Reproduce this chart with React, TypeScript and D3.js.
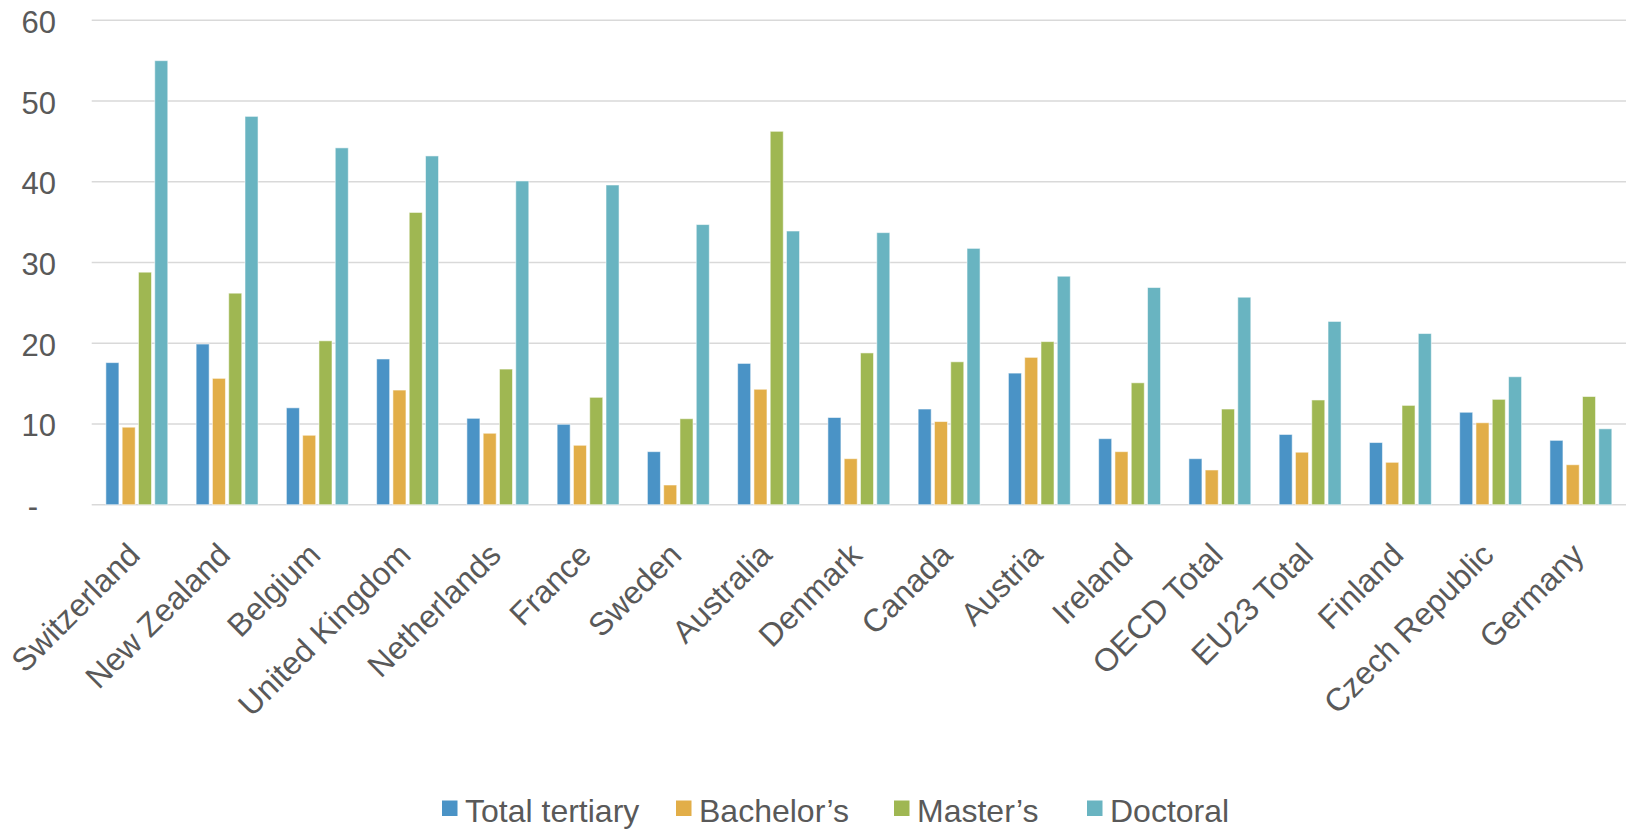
import React from "react";
import * as d3 from "d3";

const categories = [
  "Switzerland", "New Zealand", "Belgium", "United Kingdom", "Netherlands", "France",
  "Sweden", "Australia", "Denmark", "Canada", "Austria", "Ireland", "OECD Total",
  "EU23 Total", "Finland", "Czech Republic", "Germany",
];
const seriesNames = ["Total tertiary", "Bachelor\u2019s", "Master\u2019s", "Doctoral"];
const totalTertiary = [17.6, 19.9, 12.0, 18.05, 10.7, 9.96, 6.57, 17.5, 10.8, 11.85, 16.3, 8.18, 5.7, 8.7, 7.7, 11.45, 7.97];
const bachelors = [9.6, 15.65, 8.6, 14.2, 8.85, 7.36, 2.44, 14.3, 5.7, 10.3, 18.25, 6.57, 4.3, 6.5, 5.25, 10.15, 4.95];
const masters = [28.8, 26.2, 20.3, 36.2, 16.8, 13.3, 10.65, 46.25, 18.8, 17.7, 20.2, 15.1, 11.85, 12.97, 12.3, 13.05, 13.4];
const doctoral = [55.0, 48.1, 44.2, 43.2, 40.1, 39.6, 34.7, 33.9, 33.7, 31.75, 28.3, 26.9, 25.7, 22.7, 21.2, 15.85, 9.4];
const yTicks = [0, 10, 20, 30, 40, 50, 60];
const colors = ["#4A93C6", "#E2AE48", "#9FB752", "#69B4C1"];

const seriesValues = [totalTertiary, bachelors, masters, doctoral];

export default function App() {
  const W = 1627;
  const H = 831;
  const left = 91.7;
  const right = 1626;
  const top = 20.3;
  const bottom = 504.7;
  const font = "'Liberation Sans', Arial, sans-serif";
  const textColor = "#595959";

  const x = d3.scaleBand<string>().domain(categories).range([left, right]).paddingInner(0).paddingOuter(0);
  const xs = d3.scaleBand<string>().domain(seriesNames).range([0, x.bandwidth()]).paddingInner(0.2).paddingOuter(0.87);
  const y = d3.scaleLinear().domain([0, 60]).range([bottom, top]);

  const legendX = [442, 676, 894, 1087];

  return (
    <svg width={W} height={H} style={{ position: "absolute", left: 0, top: 0, background: "#fff" }} fontFamily={font}>
      <rect x={0} y={0} width={W} height={H} fill="#fff" />
      {yTicks.map((t) => (
        <line key={"g" + t} x1={left} x2={right} y1={y(t)} y2={y(t)} stroke="#D9D9D9" strokeWidth={1.5} />
      ))}
      {yTicks.map((t) => (
        <text
          key={"t" + t}
          x={t === 0 ? 38 : 56}
          y={y(t) + 12.5}
          textAnchor="end"
          fontSize={31}
          fill={textColor}
        >
          {t === 0 ? "-" : String(t)}
        </text>
      ))}
      {categories.map((c, i) => (
        <g key={c} transform={`translate(${x(c)},0)`}>
          {seriesNames.map((s, j) => {
            const v = seriesValues[j][i];
            return (
              <rect
                key={s}
                x={xs(s)}
                y={y(v)}
                width={xs.bandwidth()}
                height={y(0) - y(v)}
                fill={colors[j]}
                stroke="#ffffff"
                strokeOpacity={0.55}
                strokeWidth={1}
              />
            );
          })}
        </g>
      ))}
      {categories.map((c) => {
        const cx = (x(c) as number) + x.bandwidth() / 2 + 5;
        const cy = 557;
        return (
          <text
            key={"l" + c}
            transform={`translate(${cx},${cy}) rotate(-45)`}
            textAnchor="end"
            fontSize={32}
            fill={textColor}
          >
            {c}
          </text>
        );
      })}
      {seriesNames.map((s, j) => (
        <g key={"lg" + s} transform={`translate(${legendX[j]},0)`}>
          <rect x={0} y={800.5} width={15.5} height={15.5} fill={colors[j]} />
          <text x={23} y={822} fontSize={32} fill={textColor}>
            {s}
          </text>
        </g>
      ))}
    </svg>
  );
}
